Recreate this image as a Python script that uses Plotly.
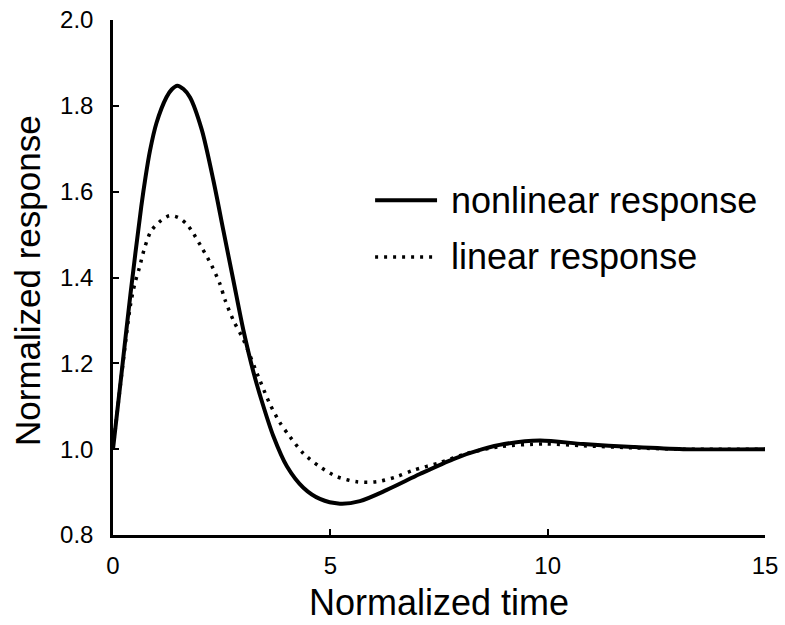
import plotly.graph_objects as go

# Normalized time / response
t_nonlinear = [0, 0.2, 0.4, 0.65, 0.75, 0.85, 1.0, 1.23, 1.35, 1.48, 1.62, 1.77, 2.04, 2.31, 2.54, 2.77, 3.0,
               3.23, 3.46, 3.69, 4.0, 4.38, 4.76, 5.22, 5.68, 6.3, 7.06, 7.83, 8.5, 9.0,
               9.82, 10.82, 11.97, 13.12, 15]
y_nonlinear = [1.0, 1.18, 1.36, 1.565, 1.635, 1.695, 1.76, 1.82, 1.838, 1.847, 1.839, 1.82, 1.745, 1.626, 1.509, 1.393, 1.277,
               1.18, 1.10, 1.03, 0.96, 0.91, 0.884, 0.873, 0.879, 0.905, 0.942, 0.977, 1.0, 1.012,
               1.02, 1.012, 1.005, 1.0, 1.0]

t_linear = [0, 0.2, 0.4, 0.5, 0.61, 0.73, 0.88, 1.11, 1.30, 1.50, 1.69, 1.81, 2.04, 2.27, 2.46,
            2.58, 2.77, 3.0, 3.38, 3.61, 3.84, 4.07, 4.38, 4.76, 5.15, 5.61, 6.07, 6.53, 6.91,
            7.5, 8.14, 8.9, 9.9, 10.82, 11.97, 13.12, 15]
y_linear = [1.0, 1.175, 1.335, 1.385, 1.424, 1.47, 1.509, 1.533, 1.544, 1.540, 1.525, 1.509, 1.470, 1.428, 1.385,
            1.347, 1.30, 1.255, 1.160, 1.105, 1.062, 1.029, 0.99, 0.959, 0.936, 0.924, 0.924, 0.936, 0.951,
            0.968, 0.990, 1.006, 1.012, 1.008, 1.003, 1.0, 1.0]

x_ticks = [0, 5, 10, 15]
y_ticks = [0.8, 1.0, 1.2, 1.4, 1.6, 1.8, 2.0]
legend_labels = ["nonlinear response", "linear response"]
x_title = "Normalized time"
y_title = "Normalized response"

FONT = "Liberation Sans, Arial, sans-serif"
DOT = "3px,6px"

fig = go.Figure()
fig.add_trace(go.Scatter(x=t_linear, y=y_linear, mode="lines", name=legend_labels[1],
                         line=dict(color="black", width=3.5, dash=DOT, shape="spline", smoothing=0.8),
                         showlegend=False))
fig.add_trace(go.Scatter(x=t_nonlinear, y=y_nonlinear, mode="lines", name=legend_labels[0],
                         line=dict(color="black", width=4, shape="spline", smoothing=0.8),
                         showlegend=False))

# manual legend (paper coordinates)
leg_rows = [(0.650, "solid", 4, legend_labels[0]), (0.540, DOT, 3.5, legend_labels[1])]
for yy, dash, w, label in leg_rows:
    fig.add_shape(type="line", xref="paper", yref="paper", x0=0.402, x1=0.497, y0=yy, y1=yy,
                  line=dict(color="black", width=w, dash=dash))
    fig.add_annotation(xref="paper", yref="paper", x=0.515, y=yy, text=label, showarrow=False,
                       xanchor="left", yanchor="middle", font=dict(family=FONT, size=36, color="black"))

# axis titles as annotations
fig.add_annotation(xref="paper", yref="paper", x=0.50, y=-0.132, text=x_title, showarrow=False,
                   xanchor="center", yanchor="middle", font=dict(family=FONT, size=36, color="black"))
fig.add_annotation(xref="paper", yref="paper", x=-0.132, y=0.495, text=y_title, showarrow=False,
                   textangle=-90, xanchor="center", yanchor="middle",
                   font=dict(family=FONT, size=35, color="black"))

fig.update_layout(
    width=785, height=625,
    margin=dict(l=113, r=20, t=20, b=90),
    paper_bgcolor="white", plot_bgcolor="white",
    font=dict(family=FONT, color="black"),
)
fig.update_xaxes(range=[0, 15], tickvals=x_ticks, ticktext=[str(v) for v in x_ticks],
                 automargin=False,
                 showgrid=False, zeroline=False, showline=True, linecolor="black", linewidth=2.5,
                 ticks="inside", ticklen=6, tickwidth=2, tickcolor="black", ticklabeloverflow="allow",
                 tickfont=dict(family=FONT, size=24, color="black"), ticklabelstandoff=7)
fig.update_yaxes(range=[0.8, 2.0], tickvals=y_ticks, ticktext=[f"{v:.1f}" for v in y_ticks],
                 automargin=False,
                 showgrid=False, zeroline=False, showline=True, linecolor="black", linewidth=2.5,
                 ticks="inside", ticklen=6, tickwidth=2, tickcolor="black", ticklabeloverflow="allow",
                 tickfont=dict(family=FONT, size=24, color="black"), ticklabelstandoff=12)

fig.write_html("out.html", config={"displayModeBar": False},
               post_script="document.body.style.margin='0px';document.body.style.overflow='hidden';")
